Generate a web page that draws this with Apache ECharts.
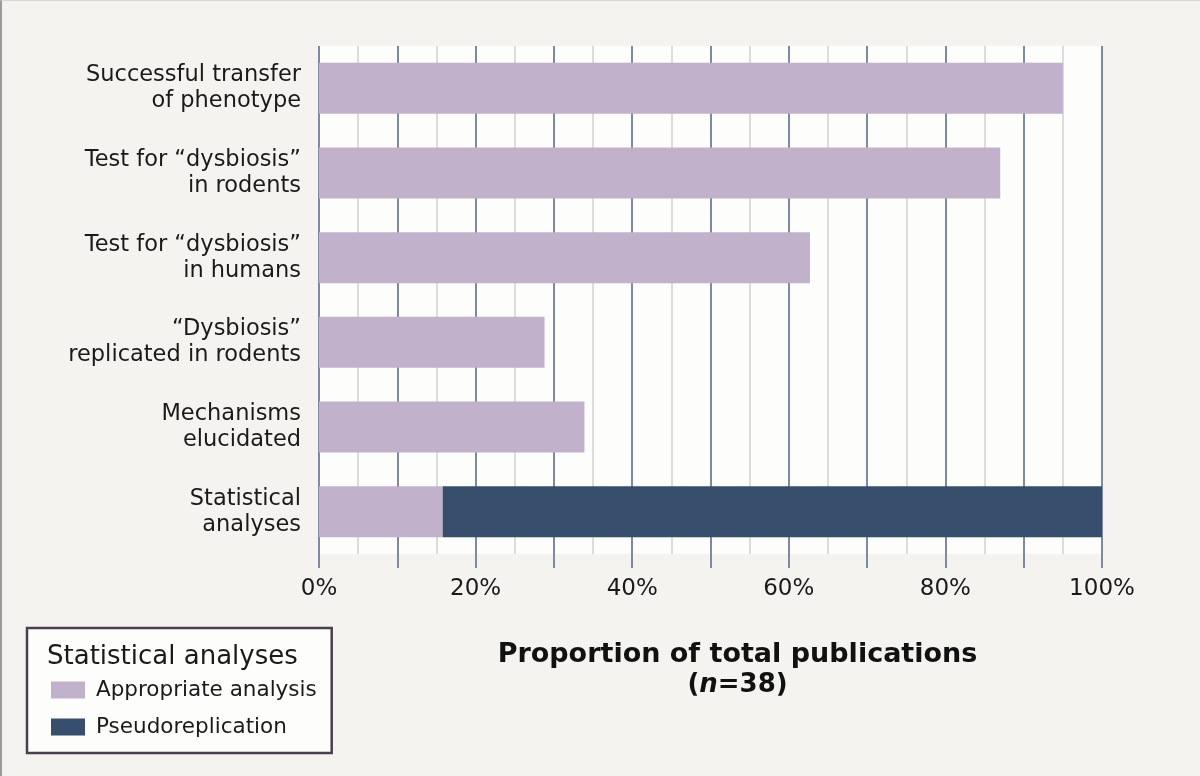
<!DOCTYPE html>
<html>
<head>
<meta charset="utf-8">
<script src="https://cdn.jsdelivr.net/npm/echarts@6/dist/echarts.min.js"></script>
<style>
html,body{margin:0;padding:0;background:#f4f3ef;}
#chart{width:1198px;height:775px;border-left:2px solid #9a9a9a;border-top:1px solid #d8d8d8;}
</style>
</head>
<body>
<div id="chart"></div>
<script>
// Categories (top to bottom as in the picture)
const categories = [
  'Successful transfer\nof phenotype',
  'Test for \u201cdysbiosis\u201d\nin rodents',
  'Test for \u201cdysbiosis\u201d\nin humans',
  '\u201cDysbiosis\u201d\nreplicated in rodents',
  'Mechanisms\nelucidated',
  'Statistical\nanalyses'
];
// Percent of publications (n = 38)
const appropriate = [95.0, 87.0, 62.7, 28.8, 33.9, 15.8];
const pseudoreplication = [null, null, null, null, null, 84.2];
const xTicks = [0, 20, 40, 60, 80, 100];
const seriesNames = ['Appropriate analysis', 'Pseudoreplication'];
const legendTitle = 'Statistical analyses';

const chart = echarts.init(document.getElementById('chart'));
const font = 'DejaVu Sans, sans-serif';
chart.setOption({
  backgroundColor: '#f4f3ef',
  animation: false,
  textStyle: { fontFamily: font },
  title: {
    text: legendTitle,
    left: 40, top: 638,
    textStyle: { fontSize: 26, fontWeight: 'normal', color: '#1a1a1a', fontFamily: font }
  },
  legend: {
    orient: 'vertical',
    left: 25, top: 627,
    padding: [51, 15, 15, 24],
    itemWidth: 34, itemHeight: 17, itemGap: 15,
    backgroundColor: '#fdfdfb',
    borderColor: '#4b3e4b', borderWidth: 2.5,
    icon: 'rect',
    textStyle: { fontSize: 21.5, lineHeight: 20, color: '#1a1a1a', fontFamily: font, padding: [0,0,0,6] },
    data: seriesNames
  },
  grid: {
    left: 317, right: 98, top: 45, bottom: 222,
    show: true, backgroundColor: '#fdfdfb', borderWidth: 0
  },
  xAxis: {
    type: 'value', min: 0, max: 100, interval: 10,
    axisLine: { show: false },
    axisTick: { show: true, length: 14, lineStyle: { color: '#7d8aa2', width: 2 } },
    splitLine: { show: true, lineStyle: { color: '#7d8aa2', width: 2 } },
    minorTick: { show: false, splitNumber: 2 },
    minorSplitLine: { show: true, lineStyle: { color: '#dcdcd8', width: 2 } },
    axisLabel: {
      margin: 24, fontSize: 23, color: '#1a1a1a', fontFamily: font,
      formatter: v => xTicks.includes(v) ? v + '%' : ''
    },
    name: '{b|Proportion of total publications}\n{p|(}{i|n}{p|=38)}',
    nameLocation: 'middle',
    nameGap: 86,
    nameTextStyle: {
      padding: [0, 0, 0, 54],
      rich: {
        b: { fontSize: 27, fontWeight: 'bold', color: '#111', lineHeight: 30, fontFamily: font },
        p: { fontSize: 26, fontWeight: 'bold', color: '#111', lineHeight: 30, fontFamily: font },
        i: { fontSize: 26, fontWeight: 'bold', fontStyle: 'italic', color: '#111', lineHeight: 30, fontFamily: font }
      }
    }
  },
  yAxis: {
    type: 'category', inverse: true, data: categories,
    axisLine: { show: false }, axisTick: { show: false },
    axisLabel: { margin: 18, fontSize: 22.5, lineHeight: 26, color: '#1a1a1a', align: 'right', fontFamily: font }
  },
  series: [
    { name: seriesNames[0], type: 'bar', stack: 'a', data: appropriate, barWidth: 51,
      itemStyle: { color: '#c1b1cb' } },
    { name: seriesNames[1], type: 'bar', stack: 'a', data: pseudoreplication, barWidth: 51,
      itemStyle: { color: '#384e6d' } }
  ]
});
</script>
</body>
</html>
